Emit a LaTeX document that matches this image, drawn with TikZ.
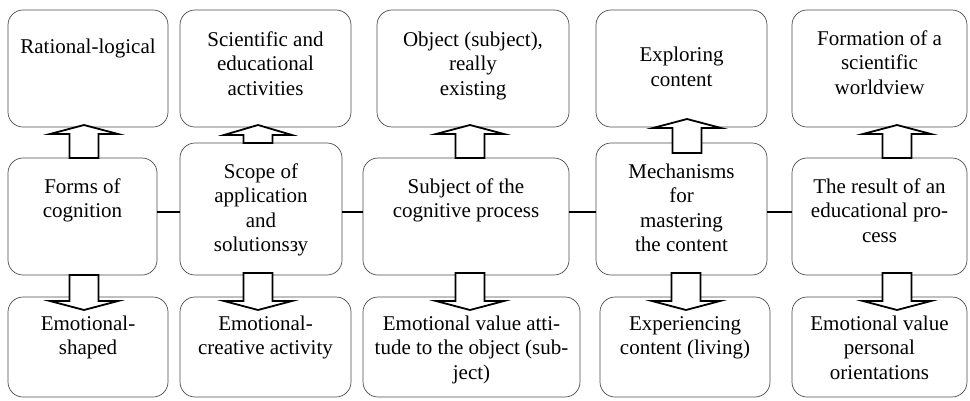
\documentclass[tikz,border=0pt]{standalone}
\usepackage{fontspec}
\setmainfont{Liberation Serif}
\newcommand\blkarr[4]{\draw[blk] ({#1-14.5},#2) -- ({#1-14.5},#3) -- ({#1-34},#3) -- (#1,#4) -- ({#1+34},#3) -- ({#1+14.5},#3) -- ({#1+14.5},#2) -- cycle;}
\begin{document}
\begin{tikzpicture}[x=1pt,y=-1pt,
  box/.style={draw=black!70, line width=0.7pt, rounded corners=15pt, rectangle, inner sep=0pt, outer sep=0pt},
  txt/.style={font=\fontsize{21}{24.5}\selectfont, align=center, anchor=base, inner sep=0pt},
  blk/.style={draw=black, line width=1.8pt, fill=white, line join=miter},
  link/.style={draw=black, line width=2.8pt}]
\useasboundingbox (0,0) rectangle (970,400);
% top row
\node[box, minimum width=160, minimum height=117] (t1) at (88,68.5) {};
\node[box, minimum width=171, minimum height=117] (t2) at (265.5,68.5) {};
\node[box, minimum width=192, minimum height=117] (t3) at (473,68.5) {};
\node[box, minimum width=171, minimum height=117] (t4) at (681.5,68.5) {};
\node[box, minimum width=175, minimum height=117] (t5) at (879.5,68.5) {};
% middle row
\node[box, minimum width=149, minimum height=117] (m1) at (82.5,216.5) {};
\node[box, minimum width=162, minimum height=132] (m2) at (261,209) {};
\node[box, minimum width=206, minimum height=117] (m3) at (466,216.5) {};
\node[box, minimum width=171, minimum height=132] (m4) at (681.5,209) {};
\node[box, minimum width=175, minimum height=117] (m5) at (879.5,216.5) {};
% bottom row
\node[box, minimum width=160, minimum height=100] (b1) at (88,347) {};
\node[box, minimum width=171, minimum height=100] (b2) at (265.5,347) {};
\node[box, minimum width=217, minimum height=100] (b3) at (471.5,347) {};
\node[box, minimum width=170, minimum height=100] (b4) at (685,347) {};
\node[box, minimum width=175, minimum height=100] (b5) at (879.5,347) {};
% links
\coordinate (lk) at (0,212);
\draw[link] (m1.east |- lk) -- (m2.west |- lk);
\draw[link] (m2.east |- lk) -- (m3.west |- lk);
\draw[link] (m3.east |- lk) -- (m4.west |- lk);
\draw[link] (m4.east |- lk) -- (m5.west |- lk);
% block arrows up
\blkarr{84}{158}{134}{125}
\blkarr{258}{143}{135}{125}
\blkarr{470}{158}{134}{125}
\blkarr{687}{153}{128}{119}
\blkarr{897}{158}{134}{125}
% block arrows down
\blkarr{84}{275}{301}{310}
\blkarr{258}{273}{301}{310}
\blkarr{470}{273}{301}{310}
\blkarr{686}{273}{301}{310}
\blkarr{897}{273}{301}{310}
% texts top (base = last line baseline)
\node[txt] (tt1) at (88,53) {Rational-logical};
\node[txt] (tt2) at (265.5,95) {Scientific and\\educational\\activities};
\node[txt] (tt3) at (473,95) {Object (subject),\\really\\existing};
\node[txt] (tt4) at (681.5,86) {Exploring\\content};
\node[txt] (tt5) at (879.5,94) {Formation of a\\scientific\\worldview};
% texts middle
\node[txt] (mt1) at (82.5,217.5) {Forms of\\cognition};
\node[txt] (mt2) at (261,251.5) {Scope of\\application\\and\\solutionsзу};
\node[txt] (mt3) at (466,217.5) {Subject of the\\cognitive process};
\node[txt] (mt4) at (681.5,251.5) {Mechanisms\\for\\mastering\\the content};
\node[txt] (mt5) at (879.5,242) {The result of an\\educational pro-\\cess};
% texts bottom
\node[txt] (bt1) at (88,354.5) {Emotional-\\shaped};
\node[txt] (bt2) at (265.5,354.5) {Emotional-\\creative activity};
\node[txt] (bt3) at (471.5,379) {Emotional value atti-\\tude to the object (sub-\\ject)};
\node[txt] (bt4) at (685,354.5) {Experiencing\\content (living)};
\node[txt] (bt5) at (879.5,379) {Emotional value\\personal\\orientations};
\end{tikzpicture}
\end{document}
